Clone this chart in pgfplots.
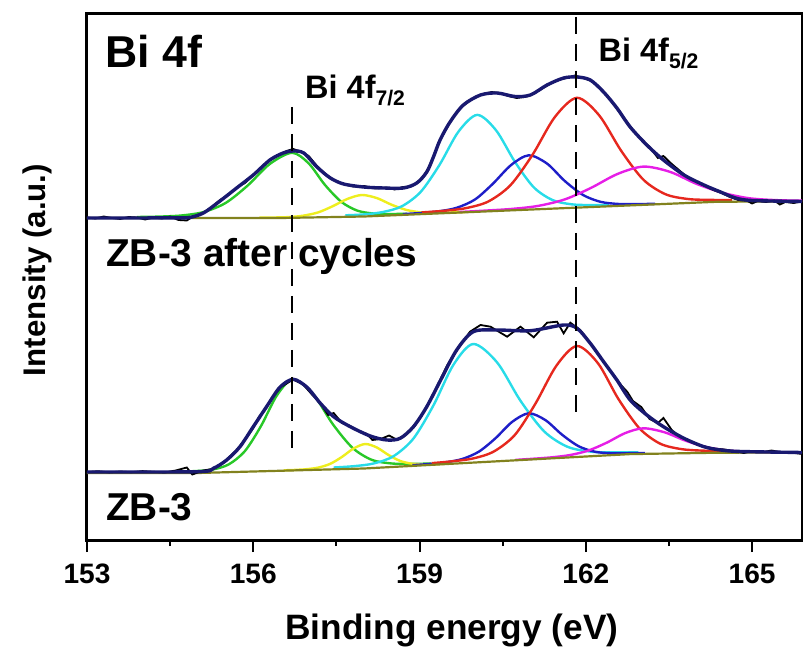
\documentclass[border=0pt]{standalone}
\usepackage{fontspec}
\setmainfont{Liberation Sans}
\usepackage{pgfplots}
\pgfplotsset{compat=1.18}
\definecolor{envnavy}{RGB}{25,25,112}
\definecolor{cgreen}{RGB}{40,200,40}
\definecolor{cyellow}{RGB}{238,238,30}
\definecolor{ccyan}{RGB}{40,220,232}
\definecolor{cblue}{RGB}{30,30,200}
\definecolor{cred}{RGB}{230,40,30}
\definecolor{cmag}{RGB}{230,30,230}
\definecolor{colive}{RGB}{130,130,30}
\begin{document}
\begin{tikzpicture}
\useasboundingbox (-43.5bp,-54.5bp) rectangle (358bp,270bp);
\begin{axis}[
  at={(0,0)}, anchor=south west,
  scale only axis, width=357.5bp, height=263bp,
  xmin=153, xmax=165.9, ymin=0, ymax=526,
  axis line style={line width=1.5bp},
  xtick={153,156,159,162,165}, minor x tick num=1,
  ytick=\empty,
  xtick pos=left,
  tick align=outside,
  major tick length=6bp, minor tick length=3bp,
  every tick/.append style={black, line width=1bp},
  /pgf/number format/assume math mode=true,
  xticklabel style={font=\bfseries\fontsize{14.1}{16}\selectfont, inner sep=0pt, anchor=north, yshift=-5.5bp},
  xlabel={Binding energy (eV)},
  xlabel style={at={(axis description cs:0.5105,-0.1901)}, anchor=base, inner sep=0pt, font=\bfseries\fontsize{17.7}{20}\selectfont},
  ylabel={Intensity (a.u.)},
  ylabel style={at={(axis description cs:-0.0587,0.5133)}, anchor=base, inner sep=0pt, font=\bfseries\fontsize{15.7}{18}\selectfont},
  clip=true,
]
% ---------- top spectrum (ZB-3 after cycles) components ----------
\addplot[cgreen, line width=1.2bp, smooth] coordinates {(153.90,323.0) (154.30,323.4) (154.70,324.5) (155.10,327.9) (155.50,337.0) (155.90,354.5) (156.30,376.1) (156.70,387.2) (157.00,376.6) (157.29,355.3) (157.59,338.1) (157.88,329.3) (158.18,326.4) (158.47,326.0) (158.77,326.2)};
\addplot[cyellow, line width=1.2bp, smooth] coordinates {(156.11,322.3) (156.37,322.5) (156.64,322.9) (156.90,324.3) (157.17,327.6) (157.43,333.7) (157.70,341.1) (157.96,345.0) (158.23,341.9) (158.49,335.4) (158.76,330.1) (159.02,327.7) (159.29,327.2) (159.55,327.5) (159.82,327.9)};
\addplot[ccyan, line width=1.2bp, smooth] coordinates {(157.66,324.7) (158.00,325.6) (158.34,328.0) (158.68,333.7) (159.02,348.1) (159.36,375.1) (159.70,408.2) (160.04,425.1) (160.38,409.7) (160.72,378.2) (161.06,352.7) (161.40,339.9) (161.74,335.7) (162.08,334.9) (162.42,335.0)};
\addplot[cblue, line width=1.2bp, smooth] coordinates {(158.70,325.9) (159.02,327.0) (159.35,328.7) (159.67,332.2) (160.00,340.5) (160.32,356.1) (160.65,374.9) (160.97,384.7) (161.30,376.4) (161.62,359.0) (161.95,345.0) (162.27,338.1) (162.60,336.0) (162.92,335.9) (163.25,336.2)};
\addplot[cred, line width=1.2bp, smooth] coordinates {(159.04,327.6) (159.44,329.2) (159.84,331.9) (160.24,338.5) (160.64,354.8) (161.04,385.4) (161.44,422.9) (161.84,442.2) (162.24,424.7) (162.64,389.0) (163.04,360.2) (163.44,345.7) (163.84,341.0) (164.24,340.1) (164.64,340.0)};
\addplot[cmag, line width=1.2bp, smooth] coordinates {(159.72,328.0) (160.19,329.4) (160.67,331.1) (161.14,334.1) (161.62,340.6) (162.09,352.0) (162.57,366.0) (163.04,373.4) (163.52,368.1) (163.99,356.3) (164.47,347.2) (164.94,341.8) (165.42,339.9) (165.89,339.3) (166.37,339.1)};
\addplot[colive, line width=1.1bp] coordinates {(153,322) (156.5,322) (158,323.5) (164.4,338.3) (165.9,338.5)};
% raw data
\addplot[black, line width=0.9bp] coordinates {(153.0,322.5) (153.15,321.5) (153.3,323.5) (153.45,322) (153.6,321) (153.75,323) (153.9,322.5) (154.05,320.5) (154.2,322.5) (154.35,321.5) (154.5,323.5) (154.65,320) (154.8,319.5) (154.9,323) (155.0,325) (155.1,327.5) (155.25,333) (155.4,340) (155.55,345) (155.7,352.5) (155.85,357) (156.0,365) (156.15,373) (156.3,380) (156.45,385) (156.6,389) (156.72,391) (156.85,388.5) (157.0,384) (157.15,374) (157.3,366) (157.45,360) (157.6,356.5) (157.8,353.5) (158.0,354) (158.2,351.5) (158.4,352.5) (158.55,350.5) (158.7,353) (158.85,353.5) (158.95,357) (159.05,362) (159.15,371) (159.25,383) (159.37,400) (159.55,418) (159.7,430) (159.85,437) (160.0,443) (160.15,446) (160.3,448) (160.45,447) (160.6,444) (160.75,442) (160.9,443) (161.05,446) (161.2,451) (161.35,456) (161.5,460) (161.65,462) (161.8,464.5) (161.95,462) (162.1,459) (162.25,452) (162.4,443) (162.55,432) (162.7,421) (162.85,410) (163.0,401) (163.15,393) (163.3,382) (163.4,384) (163.55,376) (163.7,369) (163.85,362) (164.0,358) (164.15,354) (164.3,350) (164.45,347) (164.6,343) (164.75,340) (164.9,339.5) (165.0,336.5) (165.1,339) (165.25,338) (165.4,339.5) (165.5,335.5) (165.6,338) (165.75,337) (165.9,338.5)};
% envelope
\addplot[envnavy, line width=1.7bp, smooth] coordinates {(153.0,322.0) (154.6,322.1) (154.85,322.5) (155.10,327) (155.40,339) (155.70,352) (156.00,365) (156.30,380) (156.54,387) (156.72,389) (156.91,387) (157.15,373) (157.39,362) (157.63,356) (157.99,353) (158.35,352) (158.71,352) (158.95,357) (159.13,368) (159.25,383) (159.37,400) (159.55,418) (159.79,435) (160.10,445) (160.40,447) (160.72,443.5) (161.00,445) (161.30,455) (161.60,462) (161.84,463) (162.08,460) (162.32,448) (162.56,432) (162.80,413) (163.10,395) (163.40,380) (163.77,365) (164.13,355) (164.43,348) (164.70,342) (165.00,339.5) (165.9,338.5)};
% ---------- bottom spectrum (ZB-3) components ----------
\addplot[cgreen, line width=1.2bp, smooth] coordinates {(154.69,68.4) (154.98,69.0) (155.27,70.5) (155.56,75.7) (155.85,89.0) (156.14,114.05) (156.43,144.95) (156.72,160.7) (157.08,146.0) (157.43,116.2) (157.79,92.2) (158.14,80.1) (158.50,76.5) (158.85,76.1) (159.21,76.5)};
\addplot[cyellow, line width=1.2bp, smooth] coordinates {(156.55,69.7) (156.76,70.1) (156.97,70.85) (157.18,72.5) (157.39,76.2) (157.60,83.1) (157.81,91.5) (158.02,96.0) (158.23,92.5) (158.44,85.0) (158.65,79.05) (158.86,76.3) (159.07,75.6) (159.28,75.8) (159.49,76.4)};
\addplot[ccyan, line width=1.2bp, smooth] coordinates {(157.45,72.5) (157.81,73.8) (158.17,76.5) (158.53,83.8) (158.89,101.5) (159.25,134.55) (159.61,175.1) (159.97,196.0) (160.40,177.5) (160.82,139.3) (161.25,108.5) (161.67,93.2) (162.10,88.3) (162.52,87.7) (162.95,87.8)};
\addplot[cblue, line width=1.2bp, smooth] coordinates {(158.87,74.8) (159.17,76.0) (159.47,77.7) (159.77,81.0) (160.07,88.35) (160.37,101.75) (160.67,118.1) (160.97,126.7) (161.27,119.9) (161.57,105.35) (161.87,93.75) (162.17,88.2) (162.47,86.7) (162.77,86.8) (163.07,86.8)};
\addplot[cred, line width=1.2bp, smooth] coordinates {(159.22,76.85) (159.59,78.7) (159.97,81.6) (160.34,88.5) (160.72,105.1) (161.09,136.3) (161.47,174.4) (161.84,194.0) (162.22,176.65) (162.59,140.8) (162.97,111.5) (163.34,96.35) (163.72,90.9) (164.09,89.4) (164.47,89.0)};
\addplot[cmag, line width=1.2bp, smooth] coordinates {(160.73,80.1) (161.06,81.3) (161.39,82.7) (161.72,85.0) (162.05,89.55) (162.38,97.4) (162.71,106.9) (163.04,111.7) (163.42,107.7) (163.79,99.5) (164.17,93.0) (164.54,89.6) (164.92,88.3) (165.29,87.9) (165.67,87.7)};
\addplot[colive, line width=1.1bp] coordinates {(153,67) (155,67) (158,71.5) (162.8,85.9) (164.4,87.3) (165.9,87.5)};
% raw data
\addplot[black, line width=0.9bp] coordinates {(153.0,68.0) (153.2,68.8) (153.4,67.6) (153.6,68.5) (153.8,67.8) (154.0,68.9) (154.2,68.2) (154.4,67.5) (154.6,69.5) (154.8,72.5) (154.9,65.5) (155.1,69.5) (155.3,71.5) (155.5,79.5) (155.7,90) (155.9,104) (156.0,112) (156.1,123) (156.2,129) (156.35,143) (156.5,153) (156.72,160.5) (156.9,155.5) (157.05,146) (157.2,137.5) (157.35,125) (157.45,127) (157.6,117) (157.75,114) (157.9,109) (158.05,106) (158.15,100) (158.3,101) (158.45,104.5) (158.6,100) (158.75,105) (158.9,113) (159.1,130) (159.3,152) (159.5,175) (159.7,192) (159.91,208.3) (160.10,215) (160.28,213.3) (160.58,203.3) (160.82,213.3) (161.06,202.7) (161.30,217.3) (161.48,218.3) (161.60,206.7) (161.72,217.3) (161.90,210) (162.05,199) (162.2,187) (162.35,176) (162.5,165) (162.65,154) (162.75,148) (162.85,139) (163.0,133) (163.15,121) (163.3,117) (163.40,122) (163.55,110) (163.7,103) (163.9,98) (164.1,94) (164.3,91.5) (164.5,90.5) (164.7,88.5) (164.85,87) (165.0,89) (165.2,88) (165.35,89.5) (165.5,88) (165.7,87.5) (165.9,86)};
% envelope
\addplot[envnavy, line width=1.7bp, smooth] coordinates {(153.0,68.0) (155.0,68.3) (155.28,71.7) (155.52,80) (155.76,93.3) (156.00,113.3) (156.24,133.3) (156.48,152.7) (156.72,160.7) (156.97,152.7) (157.21,136.7) (157.45,123.3) (157.75,113.3) (158.11,104) (158.41,100) (158.65,101.7) (158.89,113.3) (159.13,133.3) (159.40,162) (159.67,190) (159.97,208.3) (160.40,210) (161.00,209.3) (161.60,215) (161.84,211.7) (162.08,196.7) (162.32,178.3) (162.56,160) (162.80,140) (163.10,125) (163.40,113.3) (163.77,101.7) (164.13,93.3) (164.43,90) (164.80,88.5) (165.9,87.5)};
% ---------- dashed guide lines ----------
\addplot[black, line width=1.1bp, dash pattern=on 8.5bp off 5bp] coordinates {(156.70,433) (156.70,87)};
\addplot[black, line width=1.1bp, dash pattern=on 8.5bp off 5bp] coordinates {(161.82,523) (161.82,120)};
% ---------- text ----------
\node[anchor=base west, inner sep=0pt, font=\bfseries\fontsize{22.4}{26}\selectfont] at (axis cs:153.325,472) {Bi 4f};
\node[anchor=base west, inner sep=0pt, font=\bfseries\fontsize{16.3}{19}\selectfont] at (axis cs:156.93,441.7) {Bi 4f\raisebox{-3.4bp}{\fontsize{10.6}{12}\selectfont 7/2}};
\node[anchor=base west, inner sep=0pt, font=\bfseries\fontsize{16.3}{19}\selectfont] at (axis cs:162.225,478.3) {Bi 4f\raisebox{-3.4bp}{\fontsize{10.6}{12}\selectfont 5/2}};
\node[anchor=base west, inner sep=0pt, font=\bfseries\fontsize{19.5}{23}\selectfont] at (axis cs:153.34,273.3) {ZB-3 after cycles};
\node[anchor=base west, inner sep=0pt, font=\bfseries\fontsize{19.5}{23}\selectfont] at (axis cs:153.34,20) {ZB-3};
\end{axis}
\end{tikzpicture}
\end{document}
